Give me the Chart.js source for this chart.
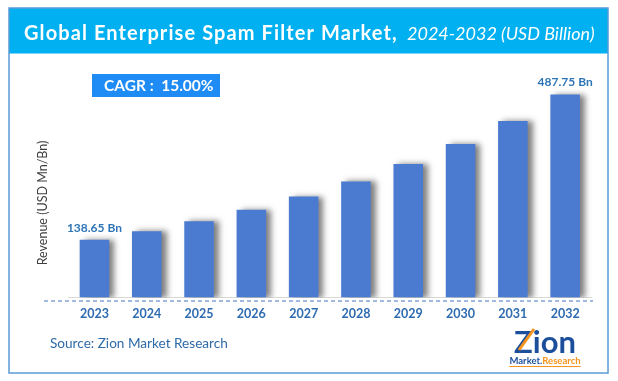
<!DOCTYPE html>
<html><head><meta charset="utf-8">
<script src="https://cdn.jsdelivr.net/npm/chart.js@4/dist/chart.umd.min.js"></script>
<style>html,body{margin:0;padding:0;background:#fff;overflow:hidden}#wrap{width:618px;height:381px}</style>
</head><body><div id="wrap"><canvas id="c" width="618" height="381"></canvas></div>
<script>
const years = ['2023','2024','2025','2026','2027','2028','2029','2030','2031','2032'];
const revenue = [138.65, 159.45, 183.37, 210.87, 242.50, 278.88, 320.71, 368.81, 424.13, 487.75];
const valueLabels = ['138.65 Bn','','','','','','','','','487.75 Bn'];
const titleMain = 'Global Enterprise Spam Filter Market,';
const titleSub = '2024-2032 (USD Billion)';
const cagrText = 'CAGR :  15.00%';
const axisTitle = 'Revenue (USD Mn/Bn)';
const sourceText = 'Source: Zion Market Research';

const FONT = 'Lato, "Open Sans", sans-serif';

const deco = {
  id: 'deco',
  beforeDraw(chart) {
    const ctx = chart.ctx;
    ctx.save();
    ctx.fillStyle = '#fff';
    ctx.fillRect(0, 0, chart.width, chart.height);
    // title bar
    ctx.fillStyle = '#00B0F0';
    ctx.fillRect(9, 8, 599, 45.5);
    // border
    ctx.strokeStyle = '#5B9BD5';
    ctx.lineWidth = 1.5;
    ctx.strokeRect(9, 8, 599, 365);
    // title text
    ctx.fillStyle = '#fff';
    ctx.textBaseline = 'alphabetic';
    ctx.font = 'bold 20px ' + FONT;
    if ('letterSpacing' in ctx) ctx.letterSpacing = '1.1px';
    ctx.fillText(titleMain, 24, 40);
    if ('letterSpacing' in ctx) ctx.letterSpacing = '0px';
    ctx.font = 'italic 18px ' + FONT;
    ctx.fillText(titleSub, 407, 40);
    ctx.restore();
  },
  beforeDatasetDraw(chart) {
    const ctx = chart.ctx;
    ctx.save();
    ctx.shadowColor = 'rgba(0,0,0,0.5)';
    ctx.shadowOffsetX = 5;
    ctx.shadowOffsetY = 0;
    ctx.shadowBlur = 6;
  },
  afterDatasetDraw(chart) {
    chart.ctx.restore();
  },
  afterDraw(chart) {
    const ctx = chart.ctx;
    const area = chart.chartArea;
    ctx.save();
    // dashed baseline
    ctx.strokeStyle = '#4472C4';
    ctx.lineWidth = 1;
    ctx.setLineDash([4, 3]);
    ctx.beginPath();
    ctx.moveTo(44, area.bottom + 3.5);
    ctx.lineTo(593, area.bottom + 3.5);
    ctx.stroke();
    ctx.setLineDash([]);
    // CAGR box
    ctx.fillStyle = '#1F8BF5';
    ctx.fillRect(92, 74, 128, 23);
    ctx.fillStyle = '#fff';
    ctx.font = 'bold 15.5px ' + FONT;
    ctx.textBaseline = 'middle';
    ctx.textAlign = 'left';
    ctx.fillText(cagrText, 104, 86);
    // value labels
    const meta = chart.getDatasetMeta(0);
    ctx.fillStyle = '#2E75B6';
    ctx.font = 'bold 12px ' + FONT;
    ctx.textAlign = 'center';
    ctx.textBaseline = 'bottom';
    meta.data.forEach((bar, i) => {
      if (valueLabels[i]) ctx.fillText(valueLabels[i], bar.x, bar.y - 6);
    });
    // axis title
    ctx.save();
    ctx.translate(43, 203);
    ctx.rotate(-Math.PI / 2);
    ctx.fillStyle = '#404040';
    ctx.font = '12.5px ' + FONT;
    ctx.textBaseline = 'middle';
    ctx.textAlign = 'center';
    ctx.fillText(axisTitle, 0, 0);
    ctx.restore();
    // source
    ctx.fillStyle = '#2F6AA8';
    ctx.font = '13.6px ' + FONT;
    ctx.textAlign = 'left';
    ctx.textBaseline = 'middle';
    ctx.fillText(sourceText, 50, 344);
    // logo
    ctx.fillStyle = '#1B4F9C';
    ctx.font = 'bold 31px ' + FONT;
    ctx.textAlign = 'center';
    ctx.textBaseline = 'alphabetic';
    ctx.fillText('Zion', 545, 353);
    ctx.strokeStyle = '#F7941D';
    ctx.lineWidth = 3;
    ctx.beginPath();
    ctx.moveTo(519, 350); ctx.lineTo(534, 329);
    ctx.stroke();
    ctx.font = 'bold 9.5px ' + FONT;
    ctx.textAlign = 'left';
    const m1 = 'Market.';
    const mw = ctx.measureText(m1).width;
    const rw = ctx.measureText('Research').width;
    const sx = 545 - (mw + rw) / 2;
    ctx.fillStyle = '#1B4F9C';
    ctx.fillText(m1, sx, 364);
    ctx.fillStyle = '#F7941D';
    ctx.fillText('Research', sx + mw, 364);
    ctx.strokeStyle = '#F7941D';
    ctx.lineWidth = 1;
    ctx.beginPath();
    ctx.moveTo(sx, 366.5); ctx.lineTo(sx + mw + rw, 366.5);
    ctx.stroke();
    ctx.restore();
  }
};

new Chart(document.getElementById('c'), {
  type: 'bar',
  data: {
    labels: years,
    datasets: [{
      data: revenue,
      backgroundColor: '#4A7BD1',
      borderWidth: 0,
      categoryPercentage: 1,
      barPercentage: 0.565
    }]
  },
  options: {
    responsive: false,
    animation: false,
    devicePixelRatio: 1,
    layout: { padding: { left: 68.3, right: 26.7, top: 68.7, bottom: 58.5 } },
    plugins: { legend: { display: false }, title: { display: false }, tooltip: { enabled: false } },
    scales: {
      x: {
        grid: { display: false, drawTicks: false },
        border: { display: true, color: '#D9D9D9', width: 1 },
        ticks: { color: '#2E6BB0', font: { family: FONT, weight: 'bold', size: 12.5 }, padding: 9 },
        afterFit(scale) { scale.height = 25; }
      },
      y: { display: false, min: 0, max: 550 }
    }
  },
  plugins: [deco]
});
</script>
</body></html>
